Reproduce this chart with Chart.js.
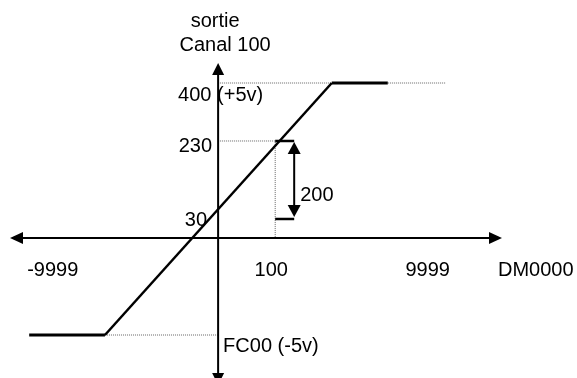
<!DOCTYPE html>
<html lang="fr">
<head>
<meta charset="UTF-8">
<title>Sortie Canal 100</title>
<script src="https://cdn.jsdelivr.net/npm/chart.js"></script>
<style>
    html, body { margin: 0; padding: 0; background: #fff; }
</style>
</head>
<body>
<canvas id="graf" width="577" height="378"></canvas>

<script>
    // DM0000 (input) and canal 100 (output) labels
    const xTicks = [-9999, 100, 9999]
    const xTickLabels = ['-9999', '100', '9999']
    const yTicks = [400, 230, 30, -400]
    const yTickLabels = ['400 (+5v)', '230', '30', 'FC00 (-5v)']
    const xTitle = 'DM0000'
    const yTitle = ['sortie', 'Canal 100']

    // transfer curve: low plateau, ramp, high plateau
    const outMin = -400
    const outMax = 400
    const lowFlatX = [-9999, -215]
    const rampX = [-215, 185]
    const highFlatX = [185, 5000]

    // step of 200 between 30 and 230 for DM0000 = 100
    const stepX = 100
    const stepY = [30, 230]

    // dotted reference lines
    const guides = [
        [[0, outMax], [9999, outMax]],
        [[0, stepY[1]], [stepX, stepY[1]], [stepX, 0]],
        [[lowFlatX[1], outMin], [0, outMin]]
    ]

    // the sketch is not to scale, so each axis is stretched piece by piece
    // [value, fraction of the axis length]
    const axisBreaks = {
        x: [[-9999, 0.039], [-215, 0.193], [0, 0.423], [100, 0.539], [185, 0.654], [9999, 0.886]],
        y: [[-400, 0.8635], [0, 0.5556], [30, 0.4952], [230, 0.2476], [400, 0.0635]]
    }

    class SchematicScale extends Chart.LinearScale {
        static id = 'schematic'
        static defaults = Chart.LinearScale.defaults

        toFraction(value) {
            const bp = axisBreaks[this.axis]
            let i = 1
            while (i < bp.length - 1 && value > bp[i][0]) i++
            const [v0, f0] = bp[i - 1]
            const [v1, f1] = bp[i]
            return f0 + (value - v0) * (f1 - f0) / (v1 - v0)
        }

        getPixelForValue(value) {
            if (value === null || isNaN(value)) return NaN
            const f = this.toFraction(value)
            return this.isHorizontal() ? this.left + f * this.width : this.top + f * this.height
        }
    }
    Chart.register(SchematicScale)

    const FONT = '20px "Liberation Sans", Arial, sans-serif'

    function seg(ctx, x1, y1, x2, y2) {
        ctx.beginPath()
        ctx.moveTo(x1, y1)
        ctx.lineTo(x2, y2)
        ctx.stroke()
    }

    function head(ctx, tx, ty, dx, dy, len, half) {
        ctx.beginPath()
        ctx.moveTo(tx, ty)
        ctx.lineTo(tx - dx * len - dy * half, ty - dy * len + dx * half)
        ctx.lineTo(tx - dx * len + dy * half, ty - dy * len - dx * half)
        ctx.closePath()
        ctx.fill()
    }

    function text(ctx, str, x, y, align) {
        ctx.textAlign = align
        ctx.fillText(str, x, y)
    }

    const yLabelPlace = [
        { align: 'left', dx: -40, dy: 18 },
        { align: 'right', dx: -6, dy: 11 },
        { align: 'right', dx: -11, dy: 7 },
        { align: 'left', dx: 5, dy: 17 }
    ]
    const xLabelPlace = [
        { align: 'left', dx: -2 },
        { align: 'center', dx: -4 },
        { align: 'right', dx: 4 }
    ]

    const diagramme = {
        id: 'diagramme',
        afterDatasetsDraw(chart) {
            const { ctx, chartArea: a, scales: { x, y } } = chart
            const ax = x.getPixelForValue(0)
            const ay = y.getPixelForValue(0)

            ctx.save()
            ctx.fillStyle = '#000'
            ctx.strokeStyle = '#000'
            ctx.lineCap = 'butt'

            // axes with arrows (the lower arrow runs off the bottom edge)
            ctx.lineWidth = 2
            seg(ctx, a.left + 8, ay, a.right - 8, ay)
            seg(ctx, ax, a.top + 8, ax, a.bottom)
            head(ctx, a.left, ay, -1, 0, 13, 6)
            head(ctx, a.right, ay, 1, 0, 13, 6)
            head(ctx, ax, a.top, 0, -1, 12, 6)
            head(ctx, ax, a.bottom + 7, 0, 1, 12, 6)

            // 200 bracket
            const bx = x.getPixelForValue(stepX)
            const yLo = y.getPixelForValue(stepY[0])
            const yHi = y.getPixelForValue(stepY[1])
            ctx.lineWidth = 2.5
            seg(ctx, bx, yHi, bx + 19, yHi)
            seg(ctx, bx, yLo, bx + 19, yLo)
            ctx.lineWidth = 2
            seg(ctx, bx + 19, yHi + 8, bx + 19, yLo - 10)
            head(ctx, bx + 19, yHi + 1, 0, -1, 12, 6.5)
            head(ctx, bx + 19, yLo - 2, 0, 1, 12, 6.5)

            // labels
            ctx.font = FONT
            ctx.textBaseline = 'alphabetic'
            text(ctx, String(stepY[1] - stepY[0]), bx + 25, yLo - 18, 'left')

            yTicks.forEach((v, i) => {
                const p = yLabelPlace[i]
                text(ctx, yTickLabels[i], ax + p.dx, y.getPixelForValue(v) + p.dy, p.align)
            })
            xTicks.forEach((v, i) => {
                const p = xLabelPlace[i]
                text(ctx, xTickLabels[i], x.getPixelForValue(v) + p.dx, ay + 38, p.align)
            })
            text(ctx, xTitle, a.right - 4, ay + 38, 'left')
            text(ctx, yTitle[0], ax - 3, a.top - 36, 'center')
            text(ctx, yTitle[1], ax + 7, a.top - 12, 'center')

            ctx.restore()
        }
    }

    const toPts = (xs, ys) => xs.map((v, i) => ({ x: v, y: ys[i] }))

    const curve = [
        { data: toPts(lowFlatX, [outMin, outMin]), borderWidth: 3 },
        { data: toPts(rampX, [outMin, outMax]), borderWidth: 2.5 },
        { data: toPts(highFlatX, [outMax, outMax]), borderWidth: 3 }
    ].map(d => ({ ...d, borderColor: '#000', order: 0 }))

    const dotted = guides.map(g => ({
        data: g.map(([gx, gy]) => ({ x: gx, y: gy })),
        borderWidth: 1,
        borderColor: '#666',
        borderDash: [1, 1],
        order: 1
    }))

    new Chart(document.getElementById('graf'), {
        type: 'line',
        data: { datasets: [...curve, ...dotted] },
        options: {
            responsive: false,
            animation: false,
            events: [],
            layout: { padding: { left: 10, right: 75, top: 63, bottom: 0 } },
            elements: {
                point: { radius: 0 },
                line: { tension: 0, fill: false, borderCapStyle: 'butt' }
            },
            plugins: { legend: { display: false }, tooltip: { enabled: false } },
            scales: {
                x: { type: 'schematic', display: false, min: -9999, max: 9999 },
                y: { type: 'schematic', display: false, min: -400, max: 400 }
            }
        },
        plugins: [diagramme]
    })
</script>
</body>
</html>
